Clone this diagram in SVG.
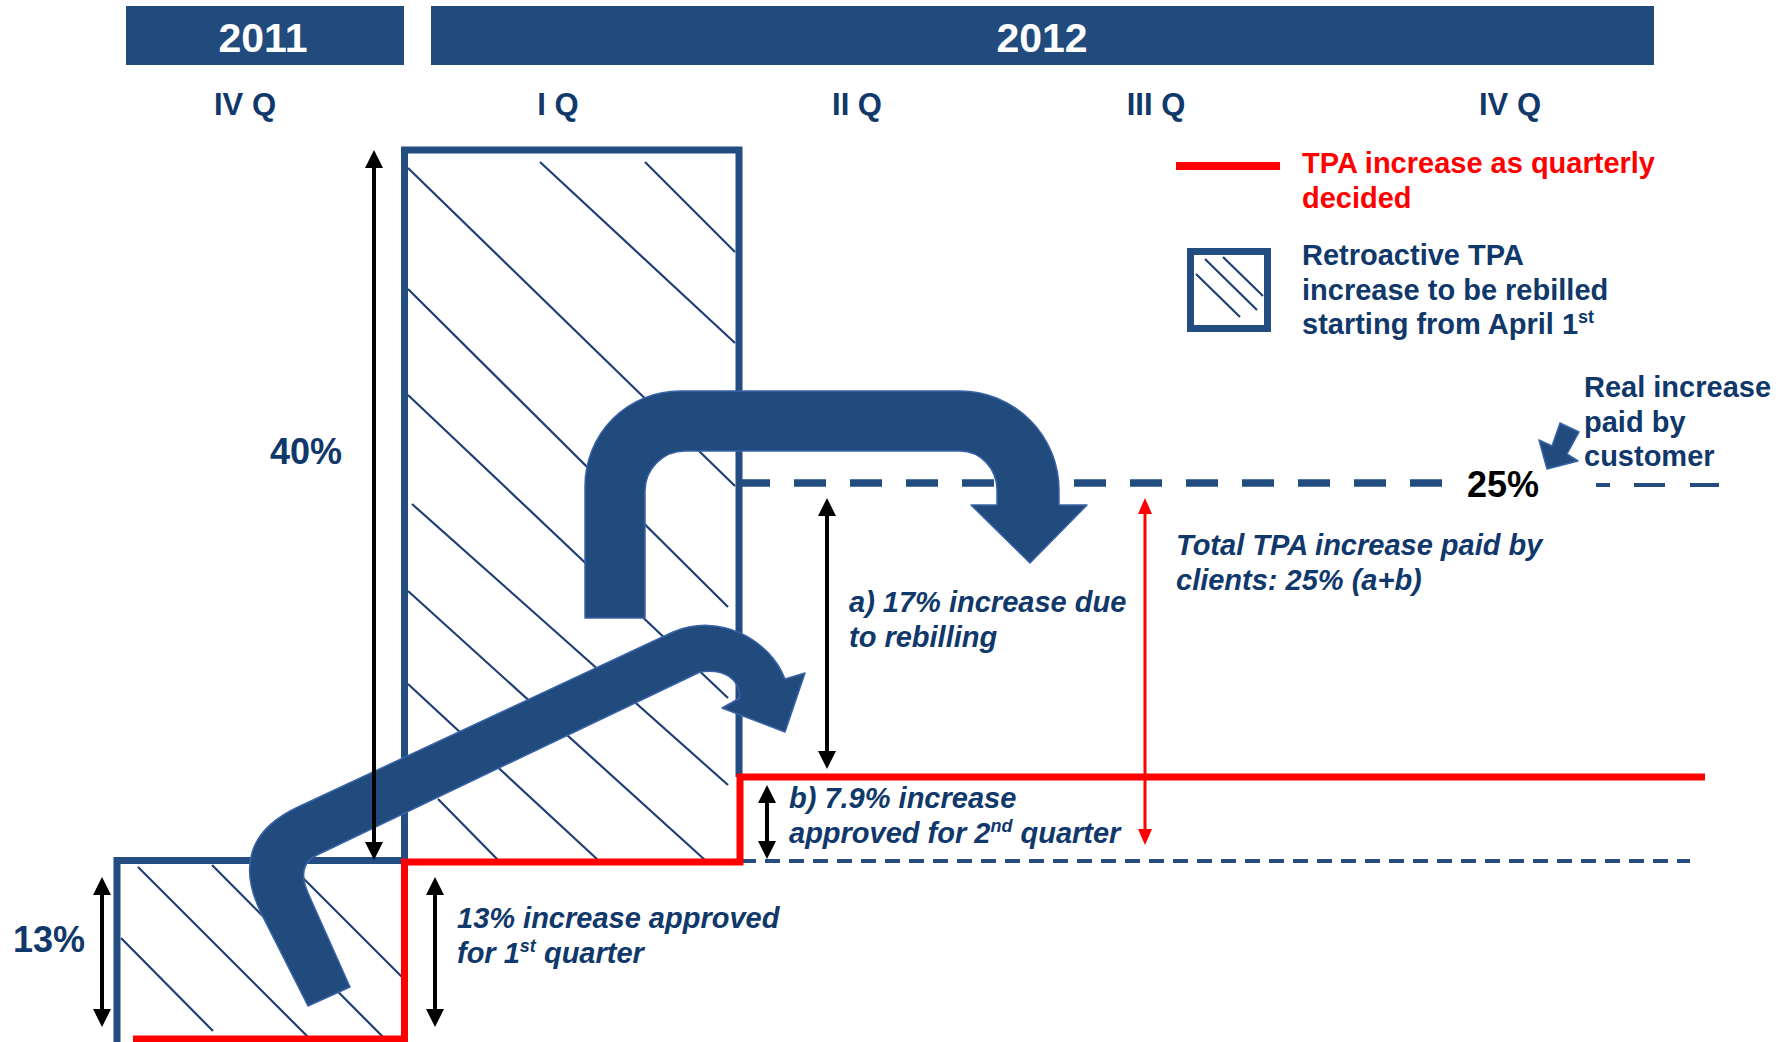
<svg xmlns="http://www.w3.org/2000/svg" width="1789" height="1042" viewBox="0 0 1789 1042">
<defs>
<style>
.yr{font-family:"Liberation Sans",Arial,sans-serif;font-weight:bold;font-size:41px;fill:#fff;text-anchor:middle}
.q{font-family:"Liberation Sans",Arial,sans-serif;font-weight:bold;font-size:31px;fill:#10386A;text-anchor:middle}
.lbl{font-family:"Liberation Sans",Arial,sans-serif;font-weight:bold;font-size:29px;fill:#10386A}
.it{font-style:italic}
.red{fill:#FF0000}
.pct{font-family:"Liberation Sans",Arial,sans-serif;font-weight:bold;font-size:36px;fill:#10386A}
.hatch{stroke:#1F3F74;stroke-width:2.2;fill:none}
.edge{stroke:#234C80;stroke-width:7;fill:none}
.big{fill:#214A7D;stroke:#3A64A8;stroke-width:1.5;stroke-linejoin:round}
.dim{stroke:#000;stroke-width:4;fill:none}
.dimr{stroke:#FF0000;stroke-width:3;fill:none}
</style>
<marker id="ah" viewBox="0 0 18 18" refX="8" refY="9" markerWidth="18" markerHeight="18" markerUnits="userSpaceOnUse" orient="auto-start-reverse">
<path d="M0,0 L18,9 L0,18 z" fill="#000"/>
</marker>
<marker id="ahr" viewBox="0 0 16 14" refX="6" refY="7" markerWidth="16" markerHeight="14" markerUnits="userSpaceOnUse" orient="auto-start-reverse">
<path d="M0,0 L16,7 L0,14 z" fill="#FF0000"/>
</marker>
</defs>
<rect width="1789" height="1042" fill="#fff"/>

<g id="header">
<rect x="126" y="6" width="278" height="59" fill="#214A7D"/>
<rect x="431" y="6" width="1223" height="59" fill="#214A7D"/>
<text class="yr" x="263" y="52">2011</text>
<text class="yr" x="1042" y="52">2012</text>
<text class="q" x="245" y="115">IV Q</text>
<text class="q" x="558" y="115">I Q</text>
<text class="q" x="857" y="115">II Q</text>
<text class="q" x="1156" y="115">III Q</text>
<text class="q" x="1510" y="115">IV Q</text>
</g>

<g id="retro-q1">
<line class="hatch" x1="408" y1="168" x2="735" y2="486"/>
<line class="hatch" x1="540" y1="162" x2="735" y2="343"/>
<line class="hatch" x1="645" y1="162" x2="735" y2="252"/>
<line class="hatch" x1="408" y1="289" x2="728" y2="607"/>
<line class="hatch" x1="408" y1="395" x2="728" y2="698"/>
<line class="hatch" x1="412" y1="504" x2="728" y2="785"/>
<line class="hatch" x1="408" y1="591" x2="705" y2="860"/>
<line class="hatch" x1="408" y1="684" x2="598" y2="860"/>
<line class="hatch" x1="438" y1="799" x2="498" y2="860"/>
<path class="edge" d="M404.5 862 V150 H739 V777"/>
</g>

<g id="retro-q4-2011">
<line class="hatch" x1="138" y1="867" x2="311" y2="1040"/>
<line class="hatch" x1="212" y1="865" x2="386" y2="1040"/>
<line class="hatch" x1="290" y1="865" x2="403" y2="978"/>
<line class="hatch" x1="121" y1="938" x2="213" y2="1031"/>
<path class="edge" d="M117 1042 V860.5 H404"/>
</g>

<g id="levels">
<line x1="738" y1="483" x2="1442" y2="483" stroke="#234C80" stroke-width="7.5" stroke-dasharray="32 24"/>
<line x1="741" y1="861" x2="1690" y2="861" stroke="#234C80" stroke-width="4" stroke-dasharray="15 9"/>
<path d="M1596 485 H1610 M1634 485 H1665 M1690 485 H1719" stroke="#234C80" stroke-width="4" fill="none"/>
<path d="M133 1039 H404.5 V862 H740 V777 H1705" stroke="#FF0000" stroke-width="7" fill="none"/>
</g>

<g id="connectors">
<path class="big" d="M585 618 V486 A95 95 0 0 1 680 391 H960 A99 99 0 0 1 1059 490 V505 H1087 L1030 563 L971 505 H997 V490 A37 39 0 0 0 960 451 H685 A40 40 0 0 0 645 491 V618 Z"/>
<path class="big" d="M308 1006 L262 915 Q225 841 298 807 L673 632 C720 612 770 640 785 679 L805 673 L785 732 L722 708 L740 698 C740 680 725 668 700 672 L317 855 Q296 865 308 893 L350 987 Z"/>
<path class="big" d="M1560 423 L1579 432 L1567 454 L1578 461 L1547 469 L1539 440 L1552 446 Z"/>
<line class="dim" x1="374" y1="160" x2="374" y2="850" marker-start="url(#ah)" marker-end="url(#ah)"/>
<line class="dim" x1="102" y1="887" x2="102" y2="1017" marker-start="url(#ah)" marker-end="url(#ah)"/>
<line class="dim" x1="435" y1="887" x2="435" y2="1017" marker-start="url(#ah)" marker-end="url(#ah)"/>
<line class="dim" x1="827" y1="508" x2="827" y2="759" marker-start="url(#ah)" marker-end="url(#ah)"/>
<line class="dim" x1="767" y1="795" x2="767" y2="849" marker-start="url(#ah)" marker-end="url(#ah)"/>
<line class="dimr" x1="1145" y1="508" x2="1145" y2="835" marker-start="url(#ahr)" marker-end="url(#ahr)"/>
</g>

<g id="legend">
<path d="M1176 166 H1280" stroke="#FF0000" stroke-width="8"/>
<text class="lbl red" x="1302" y="173">TPA increase as quarterly</text>
<text class="lbl red" x="1302" y="208">decided</text>
<rect x="1190.5" y="251.5" width="77" height="77" fill="#fff" stroke="#234C80" stroke-width="7"/>
<line class="hatch" x1="1205" y1="259" x2="1257" y2="310"/>
<line class="hatch" x1="1223" y1="257" x2="1263" y2="296"/>
<line class="hatch" x1="1196" y1="274" x2="1240" y2="317"/>
<text class="lbl" x="1302" y="265">Retroactive TPA</text>
<text class="lbl" x="1302" y="300">increase to be rebilled</text>
<text class="lbl" x="1302" y="334">starting from April 1<tspan dy="-11" font-size="18">st</tspan></text>
</g>

<g id="labels">
<text class="pct" x="270" y="464">40%</text>
<text class="pct" x="13" y="952">13%</text>
<text class="pct" x="1467" y="497" style="fill:#000">25%</text>
<text class="lbl" x="1584" y="397">Real increase</text>
<text class="lbl" x="1584" y="432">paid by</text>
<text class="lbl" x="1584" y="466">customer</text>
<text class="lbl it" x="1176" y="555">Total TPA increase paid by</text>
<text class="lbl it" x="1176" y="590">clients: 25% (a+b)</text>
<text class="lbl it" x="849" y="612">a) 17% increase due</text>
<text class="lbl it" x="849" y="647">to rebilling</text>
<text class="lbl it" x="789" y="808">b) 7.9% increase</text>
<text class="lbl it" x="789" y="843">approved for 2<tspan dy="-11" font-size="18">nd</tspan><tspan dy="11"> quarter</tspan></text>
<text class="lbl it" x="457" y="928">13% increase approved</text>
<text class="lbl it" x="457" y="963">for 1<tspan dy="-11" font-size="18">st</tspan><tspan dy="11"> quarter</tspan></text>
</g>
</svg>
